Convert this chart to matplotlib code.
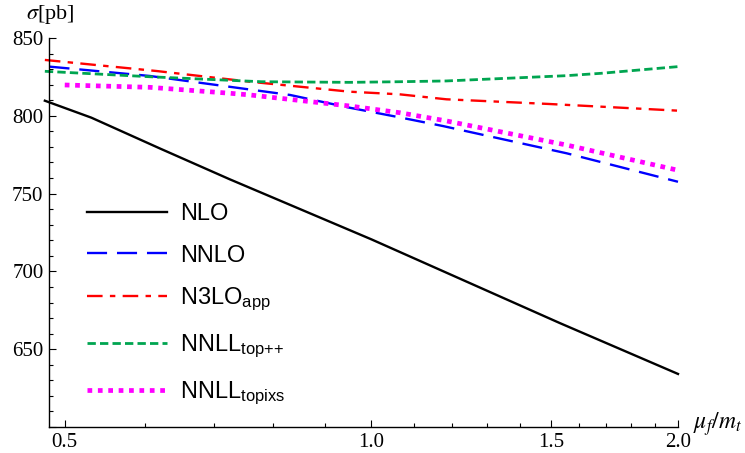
import numpy as np
import matplotlib
matplotlib.use("Agg")
import matplotlib.pyplot as plt
from matplotlib.ticker import NullFormatter

# scale ratio mu_f/m_t and cross sections [pb]
mu_nlo = [0.478, 0.531, 0.62, 0.726, 1.0, 1.531, 2.0]
nlo = [809.7, 798.8, 779.0, 759.2, 720.6, 666.8, 634.1]

mu_nnlo = [0.483, 0.606, 0.832, 0.952, 1.066, 1.176, 1.555, 2.0]
nnlo = [831.6, 825.6, 813.4, 805.2, 799.0, 793.4, 775.9, 757.6]

mu_n3lo = [0.478, 0.615, 0.76, 0.952, 1.066, 1.185, 1.494, 1.70, 2.0]
n3lo = [835.9, 828.8, 821.9, 815.5, 813.8, 810.6, 807.6, 805.7, 803.3]

mu_toppp = [0.478, 0.606, 0.78, 0.952, 1.066, 1.185, 1.555, 1.68, 2.0]
nnll_toppp = [828.6, 825.1, 821.9, 821.5, 821.9, 822.4, 825.8, 827.3, 831.6]

mu_topixs = [0.5, 0.606, 0.726, 0.76, 0.952, 1.066, 1.185, 1.555, 2.0]
nnll_topixs = [819.8, 818.3, 814.5, 813.4, 806.3, 802.0, 796.7, 781.2, 765.0]

xticks = [0.5, 1.0, 1.5, 2.0]
xticklabels = ['0.5', '1.0', '1.5', '2.0']
xminor = [0.6, 0.7, 0.8, 0.9, 1.1, 1.2, 1.3, 1.4, 1.6, 1.7, 1.8, 1.9]
yticks = [600, 650, 700, 750, 800, 850]
yticklabels = ['', '650', '700', '750', '800', '850']

plt.rcParams['mathtext.fontset'] = 'custom'
plt.rcParams['mathtext.rm'] = 'Liberation Sans'
plt.rcParams['mathtext.it'] = 'Liberation Sans:italic'

W, H = 745, 453
fig = plt.figure(figsize=(W / 100, H / 100), dpi=100)
ax = fig.add_axes([49 / W, 1 - 427 / H, 629 / W, 389 / H])

ax.plot(mu_nlo, nlo, color='black', lw=1.7, label='NLO', clip_on=False)
ax.plot(mu_nnlo, nnlo, color='#0000ff', lw=1.7, linestyle=(0, (8.5, 4.2)),
        label='NNLO', clip_on=False)
ax.plot(mu_n3lo, n3lo, color='#ff0000', lw=1.7, linestyle=(0, (6.6, 3.1, 2.3, 3.1)),
        label=r'N3LO$_{\rm app}$', clip_on=False)
ax.plot(mu_toppp, nnll_toppp, color='#00a550', lw=2.0, linestyle=(0, (3.0, 1.5)),
        label=r'NNLL$_{\rm top{+}{+}}$', clip_on=False)
ax.plot(mu_topixs, nnll_topixs, color='#ff00ff', lw=3.4, linestyle=(0, (1.0, 1.2)),
        label=r'NNLL$_{\rm topixs}$', clip_on=False)

ax.set_xscale('log')
ax.set_xlim(0.4825, 2.0)
ax.set_ylim(600, 850)
ax.set_xticks(xticks, labels=xticklabels)
ax.set_xticks(xminor, minor=True)
ax.xaxis.set_minor_formatter(NullFormatter())
ax.set_yticks(yticks, labels=yticklabels)
ax.set_yticks(np.arange(600, 851, 10), minor=True)

for s in ['top', 'right']:
    ax.spines[s].set_visible(False)
for s in ['left', 'bottom']:
    ax.spines[s].set_linewidth(1.0)

ax.tick_params(which='both', direction='in', width=0.8)
ax.tick_params(which='major', length=5)
ax.tick_params(which='minor', length=3)
ax.tick_params(axis='x', pad=4)
ax.tick_params(axis='y', pad=4)
for lab in ax.get_xticklabels() + ax.get_yticklabels():
    lab.set_fontfamily('Liberation Serif')
    lab.set_fontsize(15)

fig.text(50 / W, 1 - 15 / H, r'$\sigma$[pb]', family='Liberation Serif', fontsize=16,
         math_fontfamily='stix', ha='center', va='center')
fig.text(693 / W, 1 - 424 / H, r'$\mu_f/m_t$', fontsize=17,
         math_fontfamily='stix', ha='left', va='center')

leg = ax.legend(loc='upper left', bbox_to_anchor=(0.06, 0.575), frameon=False,
                prop={'family': 'Liberation Sans', 'size': 17},
                handlelength=3.4, handletextpad=0.55, labelspacing=0.82,
                borderpad=0, borderaxespad=0)

fig.savefig('out.png', dpi=100)
